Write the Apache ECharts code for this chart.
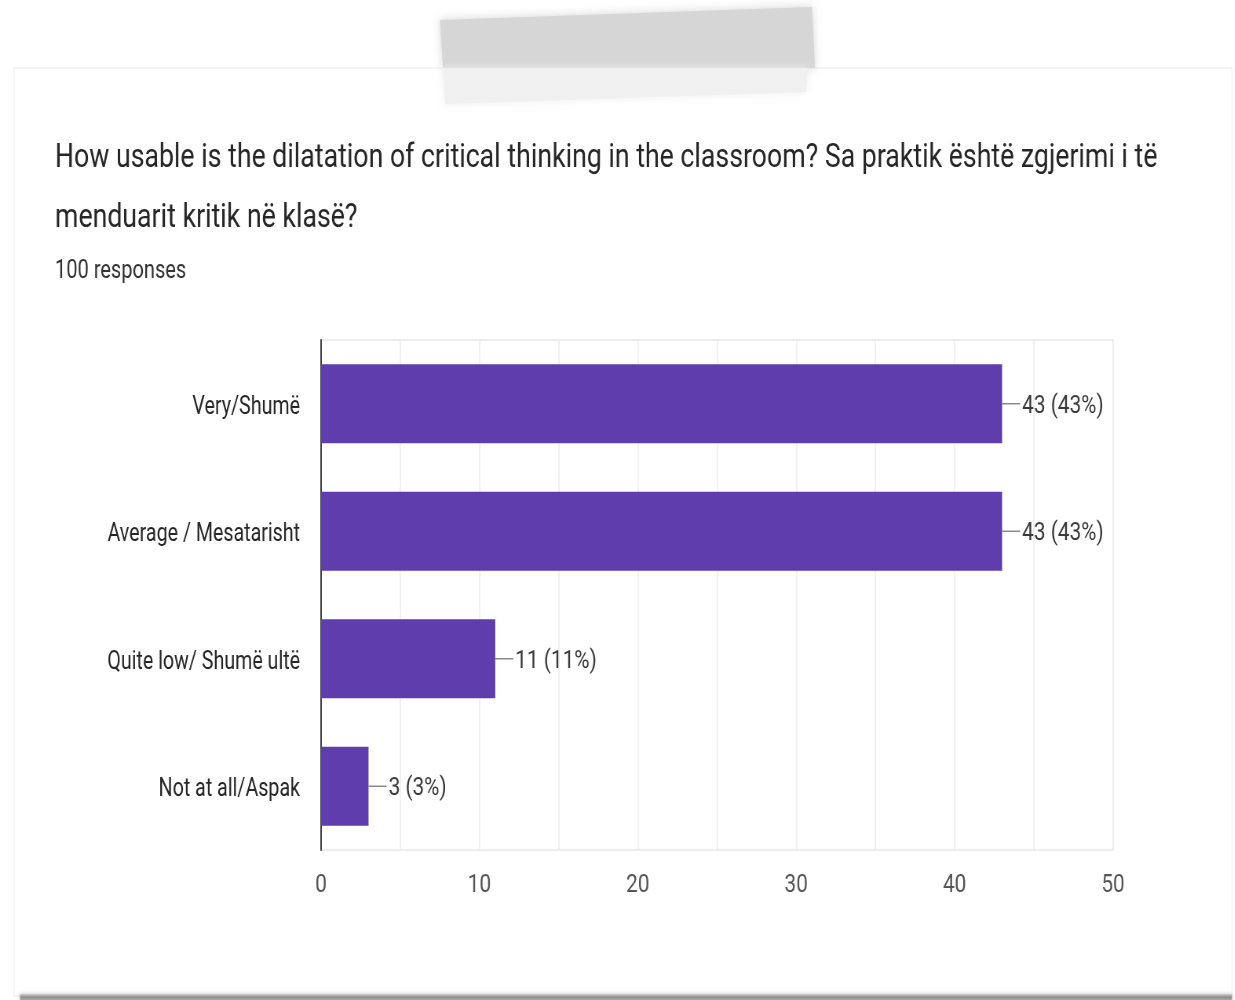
<!DOCTYPE html>
<html>
<head>
<meta charset="utf-8">
<title>How usable is the dilatation of critical thinking in the classroom?</title>
<script src="https://cdn.jsdelivr.net/npm/echarts@6/dist/echarts.min.js"></script>
<style>
  html, body { margin: 0; padding: 0; background: #ffffff; overflow: hidden; }
  #wrap { width: 1235px; height: 1000px; overflow: hidden; position: relative; }
  #chart { height: 1000px; transform-origin: 0 0; }
</style>
</head>
<body>
<div id="wrap"><div id="chart"></div></div>
<script>
// Survey answers (100 responses)
const categories = ['Very/Shumë', 'Average / Mesatarisht', 'Quite low/ Shumë ultë', 'Not at all/Aspak'];
const responses = [43, 43, 11, 3];
const xTicks = [0, 10, 20, 30, 40, 50];

const questionText = 'How usable is the dilatation of critical thinking in the classroom? Sa praktik është zgjerimi i të\nmenduarit kritik në klasë?';
const responsesText = '100 responses';

// The whole page uses a condensed look: render wider, then squeeze horizontally.
const S = 0.785;
const W = 1235 / S;
const X = v => v / S;

const el = document.getElementById('chart');
el.style.width = W + 'px';
el.style.transform = 'scaleX(' + S + ')';

const total = responses.reduce((a, b) => a + b, 0);
const FONT = 'Roboto, "Liberation Sans", Arial, sans-serif';

const chart = echarts.init(el, null, { renderer: 'canvas' });

chart.setOption({
  backgroundColor: '#ffffff',
  animation: false,
  textStyle: { fontFamily: FONT },
  title: [
    {
      text: questionText,
      left: X(55),
      top: 128,
      padding: 0,
      textStyle: { fontSize: 34, fontWeight: 'normal', color: '#262626', lineHeight: 60, fontFamily: FONT }
    },
    {
      text: responsesText,
      left: X(55),
      top: 259,
      padding: 0,
      textStyle: { fontSize: 25.5, fontWeight: 'normal', color: '#333333', fontFamily: FONT }
    }
  ],
  graphic: [
    // card body
    {
      type: 'rect', z: -10, silent: true,
      shape: { x: X(14), y: 68, width: X(1232 - 14), height: 928 },
      style: { fill: '#ffffff', stroke: '#f1f1f1', lineWidth: 1.5 }
    },
    // card bottom shadow
    {
      type: 'rect', z: -9, silent: true,
      shape: { x: X(20), y: 994, width: X(1212), height: 6 },
      style: {
        fill: new echarts.graphic.LinearGradient(0, 0, 0, 1, [
          { offset: 0, color: '#d0d0d0' },
          { offset: 0.5, color: '#8e8e8e' },
          { offset: 1, color: '#a8a8a8' }
        ]),
        shadowBlur: 4, shadowColor: 'rgba(0,0,0,0.25)'
      }
    },
    // masking tape at the top
    {
      type: 'polygon', z: -5, silent: true,
      shape: { points: [[X(440), 20], [X(812), 7], [X(815), 68], [X(443), 68]] },
      style: { fill: '#d6d6d6', shadowBlur: 10, shadowColor: '#d6d6d6' }
    },
    {
      type: 'polygon', z: -5, silent: true,
      shape: { points: [[X(443), 68], [X(808), 68], [X(806), 92], [X(445), 104]] },
      style: { fill: '#f0f0f0', shadowBlur: 8, shadowColor: '#f0f0f0' }
    }
  ],
  grid: {
    left: X(321),
    width: X(1113 - 321),
    top: 340,
    height: 510,
    show: true,
    borderColor: '#e8e8e8',
    borderWidth: 1.5,
    backgroundColor: 'transparent',
    containLabel: false
  },
  xAxis: {
    type: 'value',
    min: xTicks[0],
    max: xTicks[xTicks.length - 1],
    interval: xTicks[1] - xTicks[0],
    axisLine: { show: false },
    axisTick: { show: false },
    axisLabel: { margin: 22, fontSize: 26.5, color: '#555555', fontFamily: FONT },
    splitLine: { show: true, lineStyle: { color: '#ececec', width: 1.5 } },
    minorTick: { show: false, splitNumber: 2 },
    minorSplitLine: { show: true, lineStyle: { color: '#ececec', width: 1.5 } }
  },
  yAxis: {
    type: 'category',
    inverse: true,
    data: categories,
    axisLine: { show: true, lineStyle: { color: '#444444', width: 2 } },
    axisTick: { show: false },
    axisLabel: {
      margin: X(21),
      formatter: v => '{cat|' + v + '}',
      rich: {
        cat: { fontSize: 25, color: '#262626', fontFamily: FONT, padding: [7, 0, 0, 0], verticalAlign: 'middle' }
      }
    }
  },
  series: [{
    type: 'bar',
    data: responses,
    barWidth: 79,
    itemStyle: { color: '#5f3dac' },
    label: {
      show: true,
      position: 'right',
      distance: 0,
      formatter: p => '{lead| }{txt|' + p.value + ' (' + Math.round(p.value / total * 100) + '%)}',
      rich: {
        lead: { width: X(18), height: 1.5, backgroundColor: '#8a8a8a', verticalAlign: 'middle' },
        txt: { fontSize: 26.5, color: '#3a3a3a', fontFamily: FONT, padding: [5, 0, 0, X(2)], verticalAlign: 'middle' }
      }
    }
  }]
});
</script>
</body>
</html>
